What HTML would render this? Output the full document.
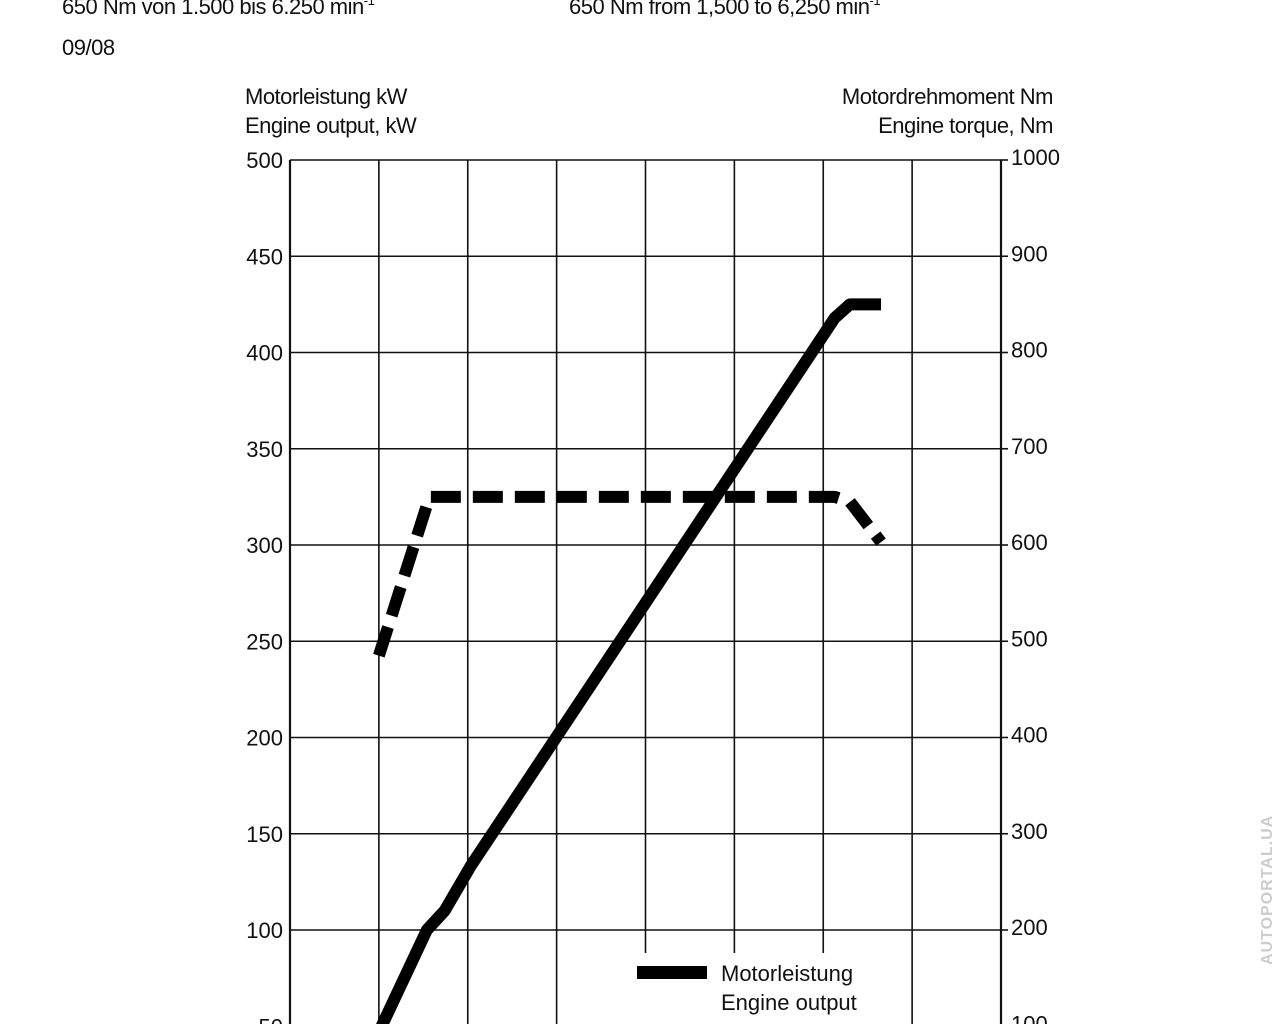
<!DOCTYPE html>
<html><head><meta charset="utf-8"><style>
html,body{margin:0;padding:0;background:#fff;}
svg{display:block;font-family:"Liberation Sans",sans-serif;}
</style></head><body>
<svg id="chart" width="1280" height="1024" viewBox="0 0 1280 1024" xmlns="http://www.w3.org/2000/svg">
<rect width="1280" height="1024" fill="#fff"/>
<g font-size="22" fill="#111" style="letter-spacing:-0.5px">
<text x="62" y="14">650 Nm von 1.500 bis 6.250 min<tspan font-size="13" dy="-9">-1</tspan></text>
<text x="569" y="14">650 Nm from 1,500 to 6,250 min<tspan font-size="13" dy="-9">-1</tspan></text>
<text x="62" y="55">09/08</text>
<text x="245" y="104">Motorleistung kW</text>
<text x="245" y="133">Engine output, kW</text>
<text x="1053" y="104" text-anchor="end">Motordrehmoment Nm</text>
<text x="1053" y="133" text-anchor="end">Engine torque, Nm</text>
</g>
<g id="grid"></g>
<g id="ticks" font-size="22" fill="#111"></g>
<g id="series"></g>
<g id="legend"></g>
<text x="0" y="0" font-size="16" font-weight="bold" fill="#ccc" transform="translate(1272,965) rotate(-90)" style="letter-spacing:1px">AUTOPORTAL.UA</text>
</svg>
<script>
const xTicks=[0,1000,2000,3000,4000,5000,6000,7000,8000];
const kwTicks=[50,100,150,200,250,300,350,400,450,500];
const nmTicks=[100,200,300,400,500,600,700,800,900,1000];
const powerRpm=[1000,1540,1740,2030,6130,6300,6650];
const powerKw=[47,100,110,133,418,425,425];
const torqueRpm=[1000,1570,6130,6300,6650];
const torqueNm=[485,650,650,645,603];
const NS="http://www.w3.org/2000/svg";
const X0=290,X1=1001,Y500=160,Y100=930;
const xs=r=>X0+(X1-X0)*r/8000;
const yk=k=>Y100-(k-100)*(Y100-Y500)/400;
const yn=n=>yk(n/2);
function mk(tag,attrs,parent){const e=document.createElementNS(NS,tag);for(const k in attrs)e.setAttribute(k,attrs[k]);parent.appendChild(e);return e;}
const grid=document.getElementById('grid'),ticks=document.getElementById('ticks'),series=document.getElementById('series'),legend=document.getElementById('legend');
xTicks.forEach(r=>{const l=mk('line',{x1:xs(r),x2:xs(r),y1:Y500,y2:1024,stroke:'#111','stroke-width':(r===0||r===8000)?2.2:1.6},grid);

});
kwTicks.forEach(k=>{const l=mk('line',{x1:X0,x2:X1,y1:yk(k),y2:yk(k),stroke:'#111','stroke-width':1.6},grid);


const t=mk('text',{x:283,y:yk(k)+8,'text-anchor':'end'},ticks);t.textContent=k;

});
nmTicks.forEach(n=>{const t=mk('text',{x:1011,y:yn(n)+5},ticks);t.textContent=n;


const tk=mk('line',{x1:X1,x2:X1+7,y1:yn(n),y2:yn(n),stroke:'#111','stroke-width':1.6},grid);

});
const pp=powerRpm.map((r,i)=>xs(r)+','+yk(powerKw[i])).join(' ');
const p=mk('polyline',{points:pp,fill:'none',stroke:'#000','stroke-width':12,'stroke-linejoin':'round'},series);


const tp=torqueRpm.map((r,i)=>xs(r)+','+yn(torqueNm[i])).join(' ');
const t=mk('polyline',{points:tp,fill:'none',stroke:'#000','stroke-width':12,'stroke-dasharray':'30 12','stroke-linejoin':'round'},series);


const bg=mk('rect',{x:600,y:953,width:300,height:71,fill:'#fff'},legend);


const sw=mk('rect',{x:637,y:966,width:70,height:13,fill:'#000'},legend);


[['Motorleistung',981],['Engine output',1010]].forEach(([s,y])=>{const e=mk('text',{x:721,y:y,'font-size':22,fill:'#111'},legend);e.textContent=s;

});
</script>
</body></html>
